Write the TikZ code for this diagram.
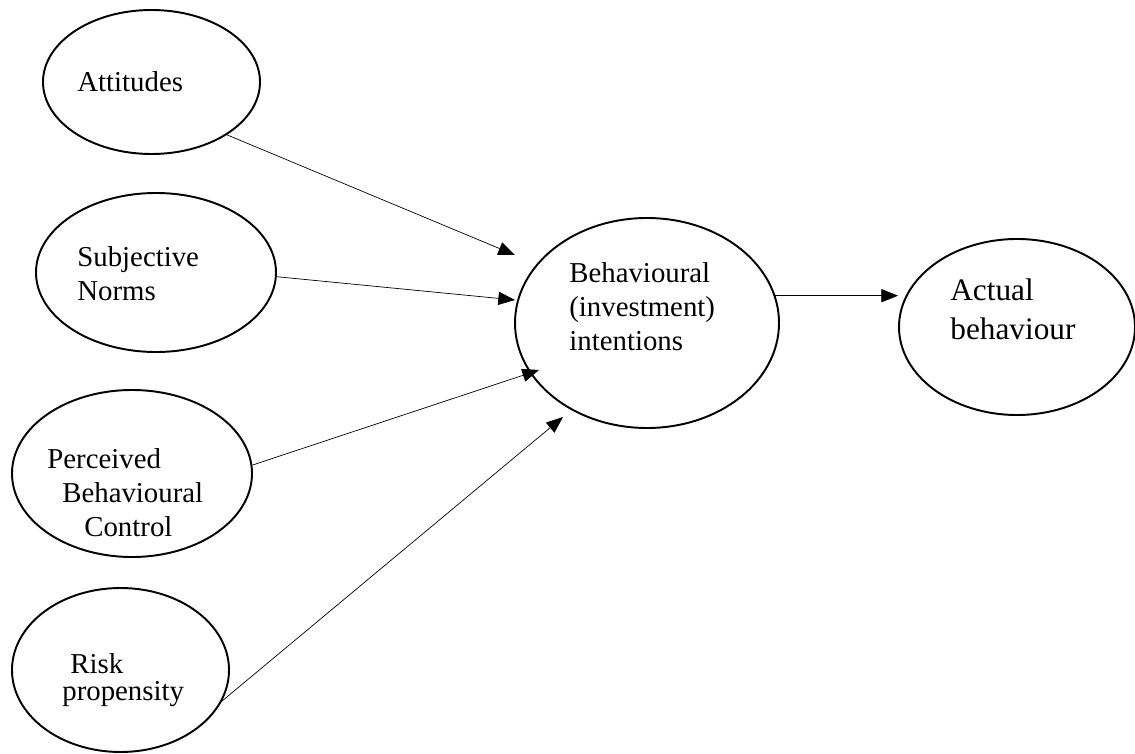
\documentclass[tikz,border=0pt]{standalone}
\usepackage{fontspec}
\setmainfont{Liberation Serif}
\usetikzlibrary{shapes.geometric, arrows.meta}

\tikzset{
  construct/.style={ellipse, draw, line width=1.1pt, inner sep=0pt},
  ovaltext/.style={anchor=base west, align=left, inner sep=0pt, font=\fontsize{16.4}{19.3}\selectfont},
  link/.style={line width=0.4pt, -{Triangle[length=9.5pt, width=7.5pt]}}
}

\begin{document}
\begin{tikzpicture}
\useasboundingbox (0,0) rectangle (22.7,15.06);

% the four antecedents (text placed at the baseline of its last line)
\node[construct, minimum width=4.34cm, minimum height=2.88cm] (attitudes) at (3.03,13.42) {};
\node[ovaltext] (attitudesText) at (1.54,13.22) {Attitudes};

\node[construct, minimum width=4.80cm, minimum height=3.18cm] (subjective) at (3.12,9.61) {};
\node[ovaltext] (subjectiveText) at (1.54,9.06) {Subjective\\Norms};

\node[construct, minimum width=4.80cm, minimum height=3.34cm] (perceived) at (2.64,5.59) {};
\node[ovaltext] (perceivedText) at (0.94,4.34) {Perceived\\\hspace*{0.30cm}Behavioural\\\hspace*{0.74cm}Control};

\node[construct, minimum width=4.34cm, minimum height=3.28cm] (risk) at (2.41,1.66) {};
\node[ovaltext] (riskText) at (1.24,1.06) {\hspace*{0.16cm}Risk\\[-4pt]propensity};

% intention and behaviour
\node[construct, minimum width=5.28cm, minimum height=4.20cm] (intention) at (12.94,8.60) {};
\node[ovaltext] (intentionText) at (11.38,8.06) {Behavioural\\(investment)\\intentions};

\node[construct, minimum width=4.72cm, minimum height=3.52cm] (actual) at (20.34,8.52) {};
\node[ovaltext, font=\fontsize{17.8}{22}\selectfont] (actualText) at (19.00,8.28) {Actual\\behaviour};

% arrow tips stop short of the oval
\coordinate (tipA) at (10.30,9.96);
\coordinate (tipS) at (10.30,9.06);
\coordinate (tipP) at (10.78,7.66);
\coordinate (tipR) at (11.26,6.72);

\draw[link] (attitudes.-35.7) -- (tipA);
\draw[link] (subjective.-2.6) -- (tipS);
\draw[link] (perceived.4) -- (tipP);
\draw[link] (risk.-17.4) -- (tipR);
\draw[link] (intention.12) -- (intention.12 -| actual.west);

\end{tikzpicture}
\end{document}
